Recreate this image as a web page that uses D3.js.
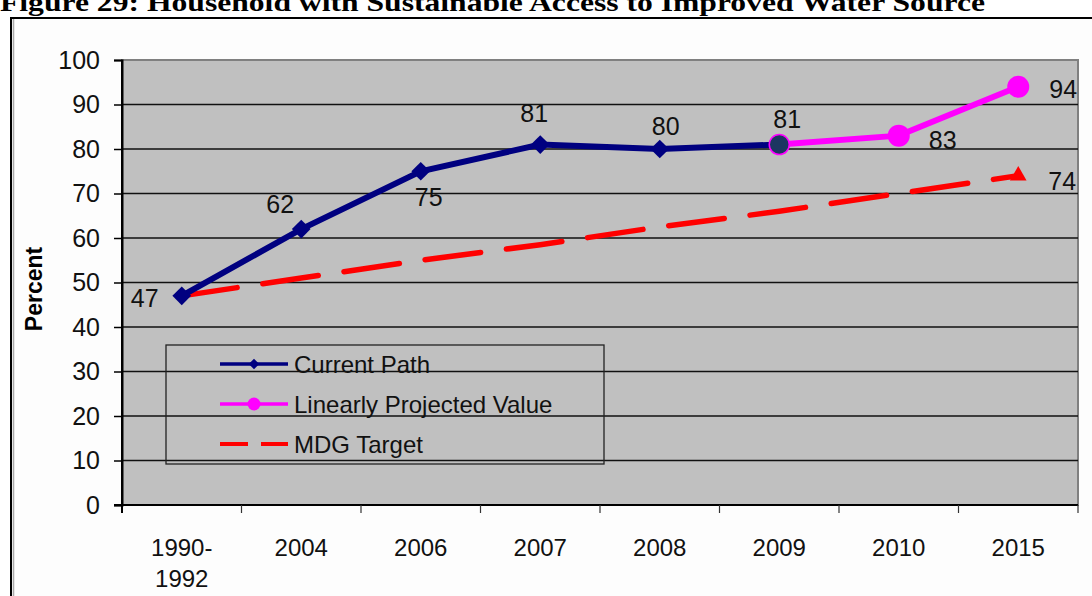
<!DOCTYPE html>
<html>
<head>
<meta charset="utf-8">
<script src="https://cdn.jsdelivr.net/npm/d3@7"></script>
<style>
  body { margin: 0; background: #fff; }
  svg { display: block; }
  text { font-family: Arial, "Liberation Sans", sans-serif; fill: #111; }
</style>
</head>
<body>
<div id="chart"></div>
<script>
// Data
const categories = ['1990-1992', '2004', '2006', '2007', '2008', '2009', '2010', '2015'];
const currentPathYears = ['1990-1992', '2004', '2006', '2007', '2008', '2009'];
const currentPath = [47, 62, 75, 81, 80, 81];
const projectedYears = ['2009', '2010', '2015'];
const projected = [81, 83, 94];
const mdgTarget = [47, 51, 55, 58.5, 62.5, 66, 70, 74];
const yTicks = [0, 10, 20, 30, 40, 50, 60, 70, 80, 90, 100];

const W = 1092;
const H = 596;

// Plot area
const plot = { left: 122, right: 1078, top: 60, bottom: 505 };

const x = d3.scaleBand().domain(categories).range([plot.left, plot.right]);
const cx = d => x(d) + x.bandwidth() / 2;
const y = d3.scaleLinear().domain([0, 100]).range([plot.bottom, plot.top]);

const svg = d3.select('#chart')
  .append('svg')
  .attr('width', W)
  .attr('height', H);

// Title (clipped at the top like the scan)
svg.append('text')
  .attr('x', 0)
  .attr('y', 11)
  .attr('textLength', 985)
  .attr('lengthAdjust', 'spacingAndGlyphs')
  .style('font-family', '"Liberation Serif", "Times New Roman", serif')
  .style('font-weight', 'bold')
  .style('font-size', '25px')
  .style('fill', '#000')
  .text('Figure 29: Household with Sustainable Access to Improved Water Source');

// Outer frame
svg.append('rect')
  .attr('x', 11)
  .attr('y', 18)
  .attr('width', W + 20)
  .attr('height', H)
  .attr('fill', '#fdfdfd')
  .attr('stroke', '#000')
  .attr('stroke-width', 2);
svg.append('line')
  .attr('x1', 13.5).attr('x2', 13.5)
  .attr('y1', 19).attr('y2', H)
  .attr('stroke', '#aaa')
  .attr('stroke-width', 1.5);

// Plot background
svg.append('rect')
  .attr('x', plot.left)
  .attr('y', plot.top)
  .attr('width', plot.right - plot.left)
  .attr('height', plot.bottom - plot.top)
  .attr('fill', '#c0c0c0')
  .attr('stroke', '#808080')
  .attr('stroke-width', 2);

// Gridlines
svg.append('g')
  .selectAll('line')
  .data(yTicks.filter(d => d > 0 && d < 100))
  .enter()
  .append('line')
  .attr('x1', plot.left)
  .attr('x2', plot.right)
  .attr('y1', d => y(d))
  .attr('y2', d => y(d))
  .attr('stroke', '#111')
  .attr('stroke-width', 1.3);

// Y axis
const yAxis = d3.axisLeft(y).tickValues(yTicks).tickSize(8).tickPadding(14);
const gy = svg.append('g')
  .attr('transform', `translate(${plot.left}, 0)`)
  .call(yAxis);
gy.select('.domain').attr('stroke', '#000').attr('stroke-width', 2);
gy.selectAll('.tick line').attr('stroke', '#000').attr('stroke-width', 1.5);
gy.selectAll('.tick text')
  .style('font-size', '25px')
  .style('font-family', 'Arial, "Liberation Sans", sans-serif')
  .attr('fill', '#111');

// X axis: ticks at category boundaries
svg.append('line')
  .attr('x1', plot.left - 8)
  .attr('x2', plot.right)
  .attr('y1', plot.bottom)
  .attr('y2', plot.bottom)
  .attr('stroke', '#000')
  .attr('stroke-width', 2);
svg.append('line')
  .attr('x1', plot.left)
  .attr('x2', plot.left)
  .attr('y1', plot.top)
  .attr('y2', plot.bottom + 8)
  .attr('stroke', '#000')
  .attr('stroke-width', 2);
svg.append('g')
  .selectAll('line')
  .data(categories)
  .enter()
  .append('line')
  .attr('x1', d => x(d) + x.bandwidth())
  .attr('x2', d => x(d) + x.bandwidth())
  .attr('y1', plot.bottom)
  .attr('y2', plot.bottom + 8)
  .attr('stroke', '#333')
  .attr('stroke-width', 1.2);

const xl = svg.append('g')
  .selectAll('text')
  .data(categories)
  .enter()
  .append('text')
  .attr('x', d => cx(d))
  .attr('y', 556)
  .attr('text-anchor', 'middle')
  .style('font-size', '24px');
xl.each(function (d) {
  const parts = d.indexOf('-') > 0 ? [d.split('-')[0] + '-', d.split('-')[1]] : [d];
  d3.select(this).selectAll('tspan')
    .data(parts)
    .enter()
    .append('tspan')
    .attr('x', cx(d))
    .attr('dy', (p, i) => (i === 0 ? 0 : 31))
    .text(p => p);
});

// Y label
svg.append('text')
  .attr('transform', 'translate(42, 289) rotate(-90)')
  .attr('text-anchor', 'middle')
  .style('font-size', '23px')
  .style('font-weight', 'bold')
  .style('fill', '#000')
  .text('Percent');

// MDG target (dashed red)
const mdgLine = d3.line().x((d, i) => cx(categories[i])).y(d => y(d));
svg.append('path')
  .datum(mdgTarget)
  .attr('d', mdgLine)
  .attr('fill', 'none')
  .attr('stroke', '#ff0000')
  .attr('stroke-width', 5.5)
  .attr('stroke-dasharray', '56,26')
  .attr('stroke-linecap', 'round');
const last = mdgTarget.length - 1;
svg.append('path')
  .attr('d', d3.symbol().type(d3.symbolTriangle).size(120)())
  .attr('transform', `translate(${cx(categories[last])}, ${y(mdgTarget[last])})`)
  .attr('fill', '#ff0000');

// Current path (navy)
const curLine = d3.line().x((d, i) => cx(currentPathYears[i])).y(d => y(d));
svg.append('path')
  .datum(currentPath)
  .attr('d', curLine)
  .attr('fill', 'none')
  .attr('stroke', '#000080')
  .attr('stroke-width', 6);
svg.append('g')
  .selectAll('path')
  .data(currentPath.slice(0, 5))
  .enter()
  .append('path')
  .attr('d', d3.symbol().type(d3.symbolSquare).size(175)())
  .attr('transform', (d, i) => `translate(${cx(currentPathYears[i])}, ${y(d)}) rotate(45)`)
  .attr('fill', '#000080');

// Linearly projected (magenta)
const projLine = d3.line().x((d, i) => cx(projectedYears[i])).y(d => y(d));
svg.append('path')
  .datum(projected)
  .attr('d', projLine)
  .attr('fill', 'none')
  .attr('stroke', '#ff00ff')
  .attr('stroke-width', 6);
svg.append('g')
  .selectAll('circle')
  .data(projected)
  .enter()
  .append('circle')
  .attr('cx', (d, i) => cx(projectedYears[i]))
  .attr('cy', d => y(d))
  .attr('r', (d, i) => (i === 0 ? 10 : 11))
  .attr('fill', (d, i) => (i === 0 ? '#1c3661' : '#ff00ff'))
  .attr('stroke', '#ff00ff')
  .attr('stroke-width', (d, i) => (i === 0 ? 1.5 : 0));

// Data labels
const labels = [
  { cat: '1990-1992', v: 47, dx: -37, dy: 2 },
  { cat: '2004', v: 62, dx: -21, dy: -25 },
  { cat: '2006', v: 75, dx: 8, dy: 26 },
  { cat: '2007', v: 81, dx: -6, dy: -32 },
  { cat: '2008', v: 80, dx: 6, dy: -23 },
  { cat: '2009', v: 81, dx: 8, dy: -26 },
  { cat: '2010', v: 83, dx: 44, dy: 4 },
  { cat: '2015', v: 94, dx: 45, dy: 2 },
  { cat: '2015', v: 74, dx: 44, dy: 5 },
];
svg.append('g')
  .selectAll('text')
  .data(labels)
  .enter()
  .append('text')
  .attr('x', d => cx(d.cat) + d.dx)
  .attr('y', d => y(d.v) + d.dy)
  .attr('text-anchor', 'middle')
  .attr('dominant-baseline', 'central')
  .style('font-size', '25px')
  .text(d => d.v);

// Legend
const legend = svg.append('g');
legend.append('rect')
  .attr('x', 166)
  .attr('y', 345)
  .attr('width', 438)
  .attr('height', 119)
  .attr('fill', 'none')
  .attr('stroke', '#222')
  .attr('stroke-width', 1.3);

const legendItems = [
  { name: 'Current Path', color: '#000080', marker: 'diamond' },
  { name: 'Linearly Projected Value', color: '#ff00ff', marker: 'circle' },
  { name: 'MDG Target', color: '#ff0000', marker: 'none' },
];
const ly = d3.scalePoint().domain(legendItems.map(d => d.name)).range([364, 444]);

legendItems.forEach((item) => {
  const g = legend.append('g').attr('transform', `translate(0, ${ly(item.name)})`);
  g.append('line')
    .attr('x1', 220)
    .attr('x2', 288)
    .attr('stroke', item.color)
    .attr('stroke-width', item.marker === 'none' ? 4 : 3.5)
    .attr('stroke-dasharray', item.marker === 'none' ? '28,13' : null);
  if (item.marker === 'diamond') {
    g.append('path')
      .attr('d', d3.symbol().type(d3.symbolSquare).size(55)())
      .attr('transform', 'translate(254, 0) rotate(45)')
      .attr('fill', item.color);
  } else if (item.marker === 'circle') {
    g.append('circle')
      .attr('cx', 254)
      .attr('r', 6.5)
      .attr('fill', item.color);
  }
  g.append('text')
    .attr('x', 294)
    .attr('dominant-baseline', 'central')
    .style('font-size', '24px')
    .text(item.name);
});
</script>
</body>
</html>
